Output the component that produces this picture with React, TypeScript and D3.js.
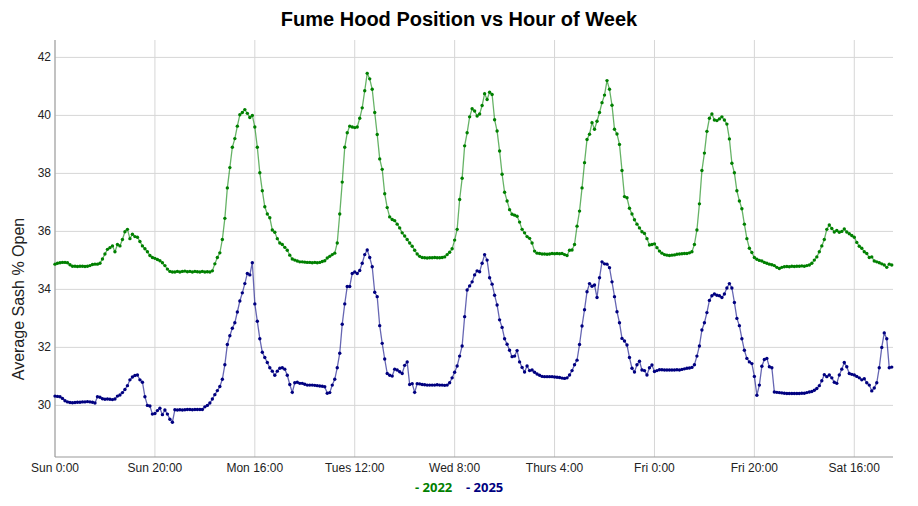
import React, { useEffect, useRef } from "react";
import * as d3 from "d3";

// half-hour samples, hour of week 0 .. 167.5
const sash2022 = [
  34.87, 34.9, 34.92, 34.93, 34.93, 34.92, 34.85, 34.8, 34.8, 34.79, 34.8, 34.8, 34.79, 34.8, 34.82, 34.86, 34.87, 34.87, 34.9, 35.05,
  35.22, 35.38, 35.44, 35.5, 35.3, 35.55, 35.5, 35.72, 35.99, 36.07, 35.75, 35.9, 35.82, 35.8, 35.65, 35.5, 35.4, 35.3, 35.17, 35.1,
  35.07, 35.03, 34.99, 34.92, 34.82, 34.7, 34.62, 34.6, 34.6, 34.62, 34.6, 34.62, 34.63, 34.61, 34.62, 34.6, 34.62, 34.61, 34.6, 34.62,
  34.6, 34.61, 34.6, 34.64, 34.88, 35.1, 35.26, 35.72, 36.45, 37.5, 38.2, 38.9, 39.2, 39.63, 40.02, 40.1, 40.2, 40.07, 39.93, 40.0,
  39.6, 38.9, 38.02, 37.4, 36.85, 36.6, 36.47, 36.05, 35.97, 35.75, 35.6, 35.55, 35.45, 35.35, 35.18, 35.05, 35.01, 34.98, 34.95, 34.95,
  34.94, 34.93, 34.93, 34.92, 34.93, 34.92, 34.93, 34.96, 34.99, 35.08, 35.14, 35.2, 35.25, 35.6, 36.6, 37.7, 38.9, 39.4, 39.63, 39.6,
  39.58, 39.6, 39.9, 40.26, 40.85, 41.45, 41.26, 40.9, 40.1, 39.34, 38.5, 38.14, 37.3, 36.82, 36.5, 36.41, 36.37, 36.25, 36.12, 35.95,
  35.84, 35.72, 35.6, 35.49, 35.35, 35.22, 35.14, 35.1, 35.09, 35.08, 35.09, 35.09, 35.1, 35.09, 35.09, 35.1, 35.12, 35.2, 35.28, 35.4,
  35.7, 36.07, 37.1, 37.83, 38.95, 39.4, 39.95, 40.23, 40.15, 39.98, 40.05, 40.34, 40.75, 40.55, 40.8, 40.72, 39.85, 39.46, 38.77, 37.97,
  37.35, 37.05, 36.75, 36.59, 36.56, 36.52, 36.32, 36.07, 35.95, 35.82, 35.76, 35.6, 35.32, 35.25, 35.24, 35.22, 35.22, 35.21, 35.22, 35.24,
  35.23, 35.24, 35.23, 35.24, 35.2, 35.17, 35.35, 35.36, 35.55, 36.18, 36.7, 37.5, 38.37, 39.17, 39.35, 39.75, 39.52, 39.8, 40.1, 40.44,
  40.7, 41.2, 40.9, 40.35, 39.52, 39.36, 39.0, 38.1, 37.2, 37.16, 36.8, 36.6, 36.4, 36.25, 36.12, 35.99, 35.93, 35.75, 35.53, 35.55,
  35.57, 35.44, 35.32, 35.25, 35.2, 35.18, 35.17, 35.18, 35.19, 35.21, 35.22, 35.23, 35.24, 35.24, 35.26, 35.3, 35.55, 36.05, 36.95, 38.1,
  38.7, 39.45, 39.9, 40.05, 39.84, 39.82, 39.88, 39.95, 39.84, 39.7, 39.19, 38.35, 38.02, 37.4, 37.05, 36.78, 36.25, 35.75, 35.42, 35.27,
  35.1, 35.04, 35.0, 34.98, 34.93, 34.9, 34.87, 34.85, 34.82, 34.76, 34.72, 34.76, 34.78, 34.79, 34.78, 34.8, 34.79, 34.8, 34.8, 34.81,
  34.8, 34.82, 34.84, 34.9, 35.01, 35.12, 35.3, 35.5, 35.72, 36.07, 36.22, 36.1, 35.98, 36.03, 35.97, 36.0, 36.08, 35.98, 35.92, 35.86,
  35.8, 35.62, 35.49, 35.42, 35.3, 35.24, 35.1, 35.12, 34.98, 34.95, 34.92, 34.88, 34.84, 34.76, 34.87, 34.84,
];

const sash2025 = [
  30.32, 30.31, 30.3, 30.24, 30.16, 30.12, 30.1, 30.09, 30.1, 30.11, 30.11, 30.12, 30.12, 30.13, 30.12, 30.11, 30.08, 30.3, 30.28, 30.23,
  30.21, 30.22, 30.21, 30.2, 30.22, 30.32, 30.36, 30.44, 30.55, 30.68, 30.88, 30.98, 31.03, 31.05, 30.88, 30.8, 30.3, 30.0, 29.98, 29.7,
  29.72, 29.82, 29.9, 29.68, 29.84, 29.7, 29.52, 29.42, 29.85, 29.84, 29.85, 29.84, 29.85, 29.86, 29.86, 29.85, 29.86, 29.86, 29.86, 29.86,
  29.95, 30.0, 30.08, 30.22, 30.37, 30.51, 30.65, 30.9, 31.4, 32.1, 32.4, 32.66, 32.85, 33.22, 33.6, 33.88, 34.2, 34.55, 34.5, 34.92,
  33.5, 32.9, 32.3, 31.83, 31.65, 31.48, 31.3, 31.18, 31.04, 31.18, 31.28, 31.3, 31.25, 31.04, 30.72, 30.45, 30.78, 30.8, 30.76, 30.76,
  30.73, 30.7, 30.7, 30.7, 30.69, 30.68, 30.67, 30.66, 30.64, 30.42, 30.44, 30.7, 30.9, 31.3, 31.8, 32.8, 33.5, 34.1, 34.1, 34.55,
  34.6, 34.55, 34.65, 34.9, 35.2, 35.36, 35.1, 34.78, 33.9, 33.75, 32.75, 32.14, 31.6, 31.1, 31.04, 31.01, 31.25, 31.22, 31.16, 31.1,
  31.38, 31.5, 30.72, 30.75, 30.45, 30.75, 30.74, 30.72, 30.71, 30.7, 30.7, 30.7, 30.7, 30.71, 30.7, 30.7, 30.69, 30.7, 30.78, 30.95,
  31.14, 31.36, 31.7, 32.05, 33.06, 33.98, 34.12, 34.26, 34.5, 34.64, 34.61, 34.9, 35.2, 35.01, 34.4, 34.18, 33.8, 33.46, 32.95, 32.69,
  32.3, 32.11, 31.9, 31.68, 31.7, 31.89, 31.5, 31.31, 31.15, 31.36, 31.2, 31.22, 31.14, 31.08, 31.04, 31.0, 30.99, 30.99, 30.99, 30.99,
  30.98, 30.97, 30.96, 30.94, 30.93, 30.95, 31.05, 31.2, 31.4, 31.56, 32.1, 32.74, 33.3, 33.92, 34.2, 34.11, 34.15, 33.72, 34.4, 34.95,
  34.88, 34.87, 34.75, 34.26, 33.75, 33.23, 32.85, 32.31, 32.22, 32.08, 31.65, 31.28, 31.15, 31.4, 31.52, 31.22, 31.2, 31.05, 31.3, 31.39,
  31.17, 31.2, 31.23, 31.23, 31.22, 31.22, 31.22, 31.22, 31.22, 31.23, 31.22, 31.24, 31.26, 31.28, 31.29, 31.31, 31.4, 31.7, 32.05, 32.6,
  32.85, 33.2, 33.62, 33.78, 33.84, 33.8, 33.78, 33.72, 33.84, 34.05, 34.2, 34.05, 33.55, 33.0, 32.75, 32.3, 31.9, 31.62, 31.5, 31.44,
  31.0, 30.35, 30.7, 31.35, 31.58, 31.62, 31.33, 31.3, 30.46, 30.45, 30.44, 30.43, 30.42, 30.41, 30.41, 30.41, 30.41, 30.41, 30.41, 30.42,
  30.42, 30.44, 30.46, 30.48, 30.52, 30.58, 30.68, 30.85, 31.06, 30.99, 31.05, 30.95, 30.8, 30.76, 31.05, 31.25, 31.48, 31.33, 31.1, 31.07,
  31.05, 31.0, 30.95, 30.88, 30.92, 30.78, 30.7, 30.5, 30.6, 30.78, 31.3, 32.0, 32.5, 32.3, 31.3, 31.32,
];

const tickHours = [0, 20, 40, 60, 80, 100, 120, 140, 160];
const tickLabels = ["Sun 0:00", "Sun 20:00", "Mon 16:00", "Tues 12:00", "Wed 8:00", "Thurs 4:00", "Fri 0:00", "Fri 20:00", "Sat 16:00"];
const yTicks = [30, 32, 34, 36, 38, 40, 42];

const series = [
  { name: "2022", values: sash2022, color: "#008000" },
  { name: "2025", values: sash2025, color: "#000080" },
];

const W = 918;
const H = 506;

const App: React.FC = () => {
  const ref = useRef<SVGSVGElement | null>(null);

  useEffect(() => {
    if (!ref.current) return;
    const svg = d3.select(ref.current);
    svg.selectAll("*").remove();

    const x = d3.scaleLinear().domain([0, 167.75]).range([55, 893]);
    const y = d3.scaleLinear().domain([28.22, 42.6]).range([457, 40]);

    // grid
    svg
      .append("g")
      .selectAll("line")
      .data(yTicks)
      .enter()
      .append("line")
      .attr("x1", 55)
      .attr("x2", 893)
      .attr("y1", (d) => y(d))
      .attr("y2", (d) => y(d))
      .attr("stroke", "#d6d6d6")
      .attr("stroke-width", 1);

    svg
      .append("g")
      .selectAll("line")
      .data(tickHours)
      .enter()
      .append("line")
      .attr("x1", (d) => x(d))
      .attr("x2", (d) => x(d))
      .attr("y1", 40)
      .attr("y2", 457)
      .attr("stroke", "#d6d6d6")
      .attr("stroke-width", 1);

    // axes lines
    svg.append("line").attr("x1", 55).attr("x2", 55).attr("y1", 40).attr("y2", 457).attr("stroke", "#999");
    svg.append("line").attr("x1", 55).attr("x2", 893).attr("y1", 457).attr("y2", 457).attr("stroke", "#999");

    const font = "Arial, 'Liberation Sans', sans-serif";

    svg
      .append("g")
      .selectAll("text")
      .data(yTicks)
      .enter()
      .append("text")
      .attr("x", 51)
      .attr("y", (d) => y(d) + 4)
      .attr("text-anchor", "end")
      .attr("font-family", font)
      .attr("font-size", 12)
      .attr("fill", "#222")
      .text((d) => d);

    svg
      .append("g")
      .selectAll("text")
      .data(tickHours)
      .enter()
      .append("text")
      .attr("x", (d) => x(d))
      .attr("y", 472)
      .attr("text-anchor", "middle")
      .attr("font-family", font)
      .attr("font-size", 12)
      .attr("fill", "#222")
      .text((d, i) => tickLabels[i]);

    // lines + markers
    const line = d3
      .line<number>()
      .x((d, i) => x(i / 2))
      .y((d) => y(d));

    series.forEach((s) => {
      svg
        .append("path")
        .datum(s.values)
        .attr("d", line)
        .attr("fill", "none")
        .attr("stroke", s.color)
        .attr("stroke-opacity", 0.6)
        .attr("stroke-width", 1.3);
      svg
        .append("g")
        .selectAll("circle")
        .data(s.values)
        .enter()
        .append("circle")
        .attr("cx", (d, i) => x(i / 2))
        .attr("cy", (d) => y(d))
        .attr("r", 1.7)
        .attr("fill", s.color);
    });

    // title
    svg
      .append("text")
      .attr("x", 459)
      .attr("y", 26)
      .attr("text-anchor", "middle")
      .attr("font-family", font)
      .attr("font-weight", "bold")
      .attr("font-size", 20)
      .attr("fill", "#000")
      .text("Fume Hood Position vs Hour of Week");

    svg
      .append("text")
      .attr("transform", `translate(24, 299) rotate(-90)`)
      .attr("text-anchor", "middle")
      .attr("font-family", font)
      .attr("font-size", 16)
      .attr("fill", "#222")
      .text("Average Sash % Open");

    // legend
    const legendX = [415, 466];
    series.forEach((s, i) => {
      svg
        .append("text")
        .attr("x", legendX[i])
        .attr("y", 492)
        .attr("font-family", "'Open Sans', sans-serif")
        .attr("font-weight", "bold")
        .attr("font-size", 13)
        .attr("fill", s.color)
        .text(`- ${s.name}`);
    });
  }, [ref]);

  return (
    <div style={{ position: "fixed", left: 0, top: 0, width: W, height: H, background: "#fff" }}>
      <svg ref={ref} width={W} height={H} />
    </div>
  );
};

export default App;
